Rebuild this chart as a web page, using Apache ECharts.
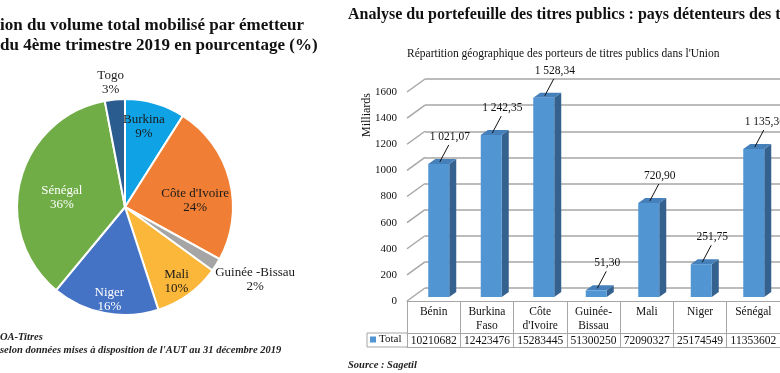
<!DOCTYPE html>
<html><head><meta charset="utf-8">
<script src="https://cdn.jsdelivr.net/npm/echarts@6/dist/echarts.min.js"></script>
<style>html,body{margin:0;padding:0;background:#fff}#c{width:780px;height:373px}</style>
</head><body><div id="c"></div>
<script>
// ---- data ----
const pieNames = ['Burkina', "Côte d'Ivoire", 'Guinée -Bissau', 'Mali', 'Niger', 'Sénégal', 'Togo'];
const pieValues = [9, 24, 2, 10, 16, 36, 3];
const barCategories = ['Bénin', 'Burkina Faso', "Côte d'Ivoire", 'Guinée-Bissau', 'Mali', 'Niger', 'Sénégal'];
const barValues = [1021.07, 1242.35, 1528.34, 51.30, 720.90, 251.75, 1135.36];
const tableValues = ['10210682', '12423476', '15283445', '51300250', '72090327', '25174549', '11353602'];
const yTicks = [0, 200, 400, 600, 800, 1000, 1200, 1400, 1600];

// ---- styles ----
const SERIF = '"Liberation Serif", "DejaVu Serif", serif';
const pieColors = ['#0fa3e6', '#f07f35', '#a5a5a5', '#fbb73a', '#4472c4', '#70ad47', '#2a5c8f'];
const pieLabelColors = ['#1a1a1a', '#1a1a1a', '#1a1a1a', '#1a1a1a', '#ffffff', '#ffffff', '#1a1a1a'];
const pieLabelShift = [[3, -26], [15, 8], [82, 42], [18, 28], [-5, 37], [-8, 5], [-9, -68]];
const GRID_GRAY = '#a6a6a6';
const FRONT = '#5195d3', SIDE = '#35618f', TOP = '#4680bb';

function fr(v) {
  const parts = v.toFixed(2).split('.');
  return parts[0].replace(/\B(?=(\d{3})+(?!\d))/g, ' ') + ',' + parts[1];
}

const chart = echarts.init(document.getElementById('c'), null, {renderer: 'canvas'});

const option = {
  animation: false,
  backgroundColor: '#fff',
  title: [
    {text: 'ion du volume total mobilisé par émetteur\ndu 4ème trimestre 2019 en pourcentage (%)',
     left: 0, top: 16, padding: 0,
     textStyle: {fontFamily: SERIF, fontSize: 17, fontWeight: 'bold', color: '#111', lineHeight: 20}},
    {text: 'Analyse du portefeuille des titres publics : pays détenteurs des t',
     left: 348, top: 6, padding: 0,
     textStyle: {fontFamily: SERIF, fontSize: 16, fontWeight: 'bold', color: '#111', lineHeight: 18}},
    {text: "Répartition géographique des porteurs de titres publics dans l'Union",
     left: 407, top: 47, padding: 0,
     textStyle: {fontFamily: SERIF, fontSize: 11.5, fontWeight: 'normal', color: '#111', lineHeight: 14}},
    {text: "OA-Titres\nselon données mises à disposition de l'AUT au 31 décembre 2019",
     left: 0, top: 331, padding: 0,
     textStyle: {fontFamily: SERIF, fontSize: 10.5, fontWeight: 'bold', fontStyle: 'italic', color: '#222', lineHeight: 13}},
    {text: 'Source : Sagetil',
     left: 348, top: 359, padding: 0,
     textStyle: {fontFamily: SERIF, fontSize: 10.5, fontWeight: 'bold', fontStyle: 'italic', color: '#222', lineHeight: 13}}
  ],
  legend: {
    data: ['Total'], left: 370, top: 334, padding: 0, itemWidth: 6, itemHeight: 6, icon: 'rect',
    textStyle: {fontFamily: SERIF, fontSize: 11, color: '#111', padding: [0, 0, 0, -2]}
  },
  graphic: [
    {type: 'polyline', shape: {points: [[407, 333], [367, 333], [367, 347], [407, 347]]},
     style: {stroke: GRID_GRAY, lineWidth: 1, fill: null}},
    {type: 'text', x: 367, y: 115, rotation: Math.PI / 2,
     style: {text: 'Milliards', font: '12px ' + SERIF, fill: '#111', textAlign: 'center', textVerticalAlign: 'middle'}}
  ],
  grid: [
    {left: 425, top: 79, width: 360, height: 209},      // back wall
    {left: 407, top: 92, width: 377, height: 209},      // front / table
    {left: 412.5, top: 88.5, width: 377, height: 208.5} // bars
  ],
  xAxis: [
    {gridIndex: 0, type: 'category', data: barCategories, show: false},
    {gridIndex: 1, type: 'category', data: barCategories, position: 'bottom',
     axisLine: {show: true, lineStyle: {color: GRID_GRAY, width: 1}},
     axisTick: {show: true, interval: 0, length: 46, lineStyle: {color: GRID_GRAY, width: 1}},
     axisLabel: {interval: 0, margin: 4, fontFamily: SERIF, fontSize: 11.5, lineHeight: 14, color: '#111',
       formatter: v => v.replace(' ', '\n').replace('-', '-\n')}},
    {gridIndex: 1, type: 'category', data: tableValues, position: 'bottom', offset: 32,
     axisLine: {show: true, lineStyle: {color: GRID_GRAY, width: 1}},
     axisTick: {show: false},
     axisLabel: {interval: 0, margin: 1, fontFamily: SERIF, fontSize: 11.5, lineHeight: 13, color: '#111'}},
    {gridIndex: 1, type: 'category', data: barCategories, position: 'bottom', offset: 46,
     axisLine: {show: true, lineStyle: {color: GRID_GRAY, width: 1}},
     axisTick: {show: false}, axisLabel: {show: false}},
    {gridIndex: 2, type: 'category', data: barCategories, show: false}
  ],
  yAxis: [
    {gridIndex: 0, type: 'value', min: 0, max: 1600, interval: 200,
     axisLabel: {show: false}, axisLine: {show: false}, axisTick: {show: false},
     splitLine: {show: true, lineStyle: {color: GRID_GRAY, width: 1.5}}},
    {gridIndex: 1, type: 'value', min: 0, max: 1600, interval: 200,
     axisLabel: {margin: 10, fontFamily: SERIF, fontSize: 11, color: '#111', formatter: v => String(v)},
     axisLine: {show: false}, axisTick: {show: false}, splitLine: {show: false}},
    {gridIndex: 2, type: 'value', min: 0, max: 1600, show: false, splitLine: {show: false}}
  ],
  series: [
    {
      type: 'pie', name: 'Volume', center: [125, 207], radius: 108,
      startAngle: 90, clockwise: true,
      itemStyle: {borderColor: '#fff', borderWidth: 2},
      label: {show: true, position: 'inside', fontFamily: SERIF, fontSize: 13, lineHeight: 14,
        formatter: p => p.name + '\n' + p.value + '%'},
      labelLine: {show: false},
      labelLayout: p => ({dx: pieLabelShift[p.dataIndex][0], dy: pieLabelShift[p.dataIndex][1]}),
      emphasis: {disabled: true},
      data: pieNames.map((n, i) => ({
        name: n, value: pieValues[i],
        itemStyle: {color: pieColors[i]},
        label: {color: pieLabelColors[i]}
      }))
    },
    {
      type: 'custom', name: 'walls', xAxisIndex: 0, yAxisIndex: 0, silent: true,
      data: yTicks.map(v => [0, v]),
      renderItem: (params, api) => {
        const p = api.coord([0, api.value(1)]);
        const band = api.size([1, 0])[0];
        const xl = p[0] - band / 2;
        return {type: 'line', shape: {x1: xl - 18, y1: p[1] + 13, x2: xl, y2: p[1]},
          style: {stroke: GRID_GRAY, lineWidth: 1.5}};
      }
    },
    {
      type: 'custom', name: 'Total', xAxisIndex: 4, yAxisIndex: 2,
      itemStyle: {color: FRONT},
      data: barValues.map((v, i) => [i, v]),
      encode: {x: 0, y: 1},
      renderItem: (params, api) => {
        const v = api.value(1);
        const base = api.coord([api.value(0), 0]);
        const top = api.coord([api.value(0), v]);
        const band = api.size([1, 0])[0];
        const w = band * 0.4, dx = 7, dy = 5;
        const x = base[0] - w / 2, cx = base[0];
        return {type: 'group', children: [
          {type: 'polygon', shape: {points: [[x + w, top[1]], [x + w + dx, top[1] - dy], [x + w + dx, base[1] - dy], [x + w, base[1]]]},
           style: {fill: SIDE}},
          {type: 'polygon', shape: {points: [[x, top[1]], [x + dx, top[1] - dy], [x + w + dx, top[1] - dy], [x + w, top[1]]]},
           style: {fill: TOP}},
          {type: 'rect', shape: {x: x, y: top[1], width: w, height: base[1] - top[1]},
           style: {fill: FRONT}},
          {type: 'line', shape: {x1: cx + 10, y1: top[1] - 19, x2: cx + 1, y2: top[1] - 2},
           style: {stroke: '#111', lineWidth: 1}},
          {type: 'text', x: cx + 11, y: top[1] - 27,
           style: {text: fr(v), font: '11.5px ' + SERIF, fill: '#111', textAlign: 'center', textVerticalAlign: 'middle'}}
        ]};
      }
    }
  ]
};
chart.setOption(option);
</script>
</body></html>
